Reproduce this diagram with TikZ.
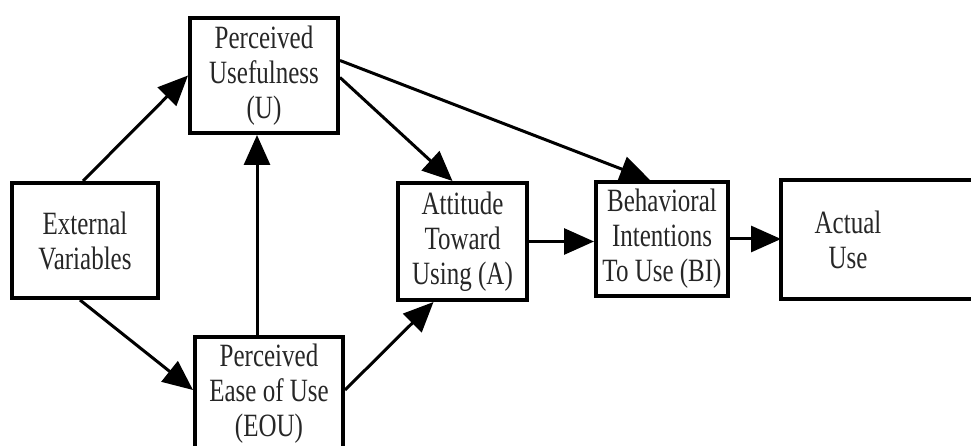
\documentclass[tikz,border=0pt]{standalone}
\usepackage{fontspec}
\usepackage{graphicx}
\setmainfont{Liberation Serif}
\usetikzlibrary{arrows.meta}

% the labels are set in a tall, narrow face
\newcommand{\stretchtxt}[1]{\scalebox{1}[1.3]{#1}}

\tikzset{
  boxline/.style={draw=black, line width=4pt},
  tambox/.style={boxline, rectangle, align=center, inner sep=0pt,
    font=\fontsize{25}{35}\selectfont, text=black!85},
  arr/.style={line width=3pt, -{Triangle[length=30pt,width=26pt]}},
}

\begin{document}
\begin{tikzpicture}[x=1pt,y=-1pt]
  \useasboundingbox (0,0) rectangle (971,446);
  \clip (0,0) rectangle (971,446);

  % constructs of the technology acceptance model
  \node[tambox, minimum width=148pt, minimum height=115pt] (pu) at (264,75.5)
    {\stretchtxt{Perceived}\\\stretchtxt{Usefulness}\\\stretchtxt{(U)}};
  \node[tambox, minimum width=146pt, minimum height=115pt] (ev) at (85,240.5)
    {\stretchtxt{External}\\\stretchtxt{Variables}};
  \node[tambox, minimum width=148pt, minimum height=114pt] (peou) at (269,394)
    {\stretchtxt{Perceived}\\\stretchtxt{Ease of Use}\\\stretchtxt{(EOU)}};
  \node[tambox, minimum width=129pt, minimum height=117pt] (att) at (462.5,241.5)
    {\stretchtxt{Attitude}\\\stretchtxt{Toward}\\\stretchtxt{Using (A)}};
  \node[tambox, minimum width=132pt, minimum height=114pt] (bi) at (662,239)
    {\stretchtxt{Behavioral}\\\stretchtxt{Intentions}\\\stretchtxt{To Use (BI)}};
  \node[tambox, draw=none, minimum width=130pt, minimum height=115pt] (act) at (848,239.5)
    {\stretchtxt{Actual}\\\stretchtxt{Use}};
  % the last box runs past the right edge
  \draw[boxline] (act.north west) rectangle ([xshift=80pt]act.south east);

  % causal links
  \coordinate (vx) at (257,0);
  \draw[arr] ([xshift=-2pt]ev.north) -- (pu.west);
  \draw[arr] ([xshift=-5pt]ev.south) -- ([yshift=4pt]peou.west);
  \draw[arr] (vx |- peou.north) -- (vx |- pu.south);
  \draw[arr] ([yshift=-2pt]pu.east) -- ([xshift=-10pt]att.north);
  \draw[arr] ([yshift=15pt]pu.east) -- ([xshift=-12pt]bi.north);
  \draw[arr] ([yshift=4pt]peou.east) -- ([xshift=-29pt]att.south);
  \draw[arr] (att.east) -- (bi.west |- att.east);
  \draw[arr] (bi.east) -- (act.west |- bi.east);
\end{tikzpicture}
\end{document}
